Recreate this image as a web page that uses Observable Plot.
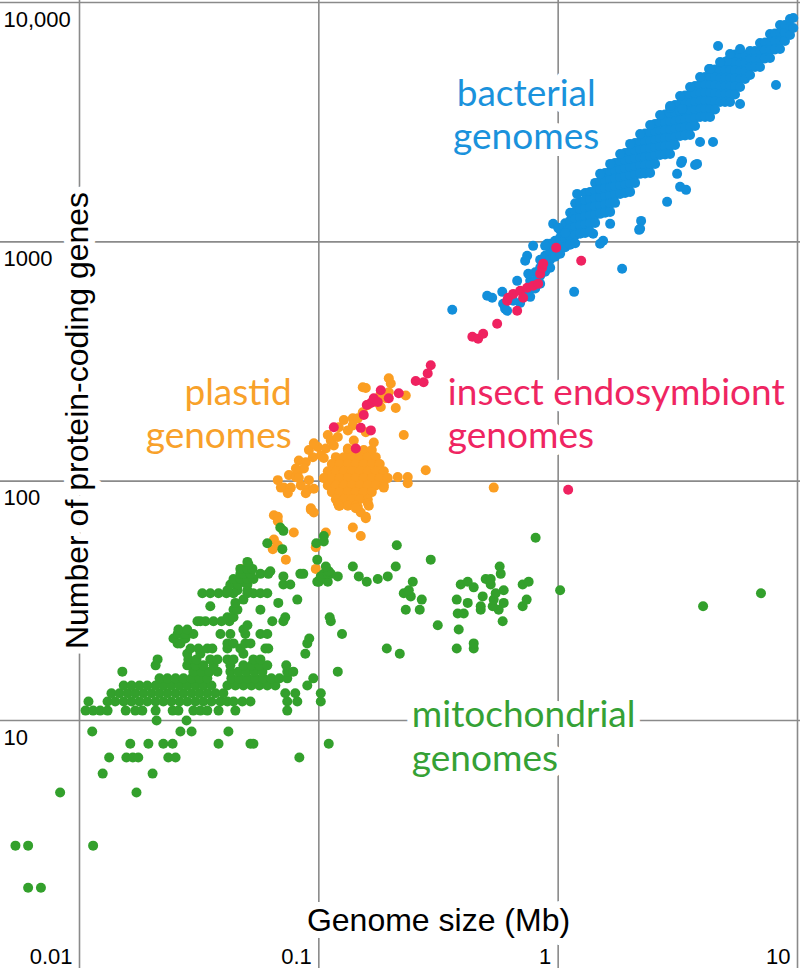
<!DOCTYPE html>
<html><head><meta charset="utf-8">
<script src="https://cdn.jsdelivr.net/npm/d3@7"></script>
<script src="https://cdn.jsdelivr.net/npm/@observablehq/plot@0.6"></script>
<style>body{margin:0;background:#fff} #chart svg{display:block}</style>
</head><body><div id="chart"></div>
<script>
// Tick values and labels
const xTicks = [0.01, 0.1, 1, 10];
const xTickLabels = ["0.01", "0.1", "1", "10"];
const yTicks = [10, 100, 1000, 10000];
const yTickLabels = ["10", "100", "1000", "10,000"];

// Mitochondrial genomes: [protein-coding genes, [genome sizes in Mb]]
const mitoRows = [
 [2, [0.0061, 0.0069]],
 [3, [0.0054, 0.0061, 0.0114]],
 [5, [0.0083, 0.0173]],
 [6, [0.0125, 0.0202]],
 [7, [0.0133, 0.0157, 0.0167, 0.0176, 0.0235, 0.0252, 0.0829]],
 [8, [0.0163, 0.0194, 0.0224, 0.0245, 0.0381, 0.0518, 0.0533, 0.110]],
 [9, [0.0113, 0.0264, 0.0294, 0.0419]],
 [10, [0.0210, 0.0280]],
 [11, [0.0106, 0.0114, 0.0122, 0.0131, 0.0156, 0.0171, 0.0183, 0.0208, 0.0245, 0.0259, 0.0299, 0.0320, 0.0342, 0.0381, 0.0448, 0.0738]],
 [12, [0.0109, 0.0131, 0.0141, 0.0153, 0.0165, 0.0178, 0.0192, 0.0208, 0.0224, 0.0242, 0.0262, 0.0282, 0.0305, 0.0329, 0.0356, 0.0388, 0.0415, 0.0440, 0.0479, 0.0518, 0.0738, 0.0813, 0.1019]],
 [13, [0.0136, 0.0147, 0.0159, 0.0171, 0.0185, 0.0200, 0.0216, 0.0233, 0.0252, 0.0272, 0.0294, 0.0317, 0.0342, 0.0370, 0.0399, 0.0724, 0.0797, 0.1019]],
 [14, [0.0153, 0.0165, 0.0178, 0.0192, 0.0208, 0.0224, 0.0242, 0.0262, 0.0282, 0.0305, 0.0329, 0.0356, 0.0415, 0.0448, 0.0484, 0.0523, 0.0564, 0.0609, 0.0658, 0.0895]],
 [15, [0.0216, 0.0233, 0.0252, 0.0272, 0.0294, 0.0317, 0.0342, 0.0431, 0.0466, 0.0503, 0.0543, 0.0586, 0.0633, 0.0684, 0.0738, 0.0948]],
 [16, [0.0151, 0.0299, 0.0323, 0.0349, 0.0377, 0.0427, 0.0461, 0.0498, 0.0538, 0.0581, 0.0738, 0.0782, 0.1200]],
 [17, [0.0208, 0.0282, 0.0305, 0.0329, 0.0363, 0.0427, 0.0484, 0.0523, 0.0564, 0.0609, 0.0731]],
 [18, [0.0212, 0.0285, 0.0308, 0.0352, 0.0377, 0.0415, 0.0440, 0.0533, 0.0570]],
 [19, [0.0282, 0.0320, 0.0484, 0.0878, 0.2179]],
 [20, [0.0291, 0.0314, 0.0342, 0.0359, 0.0415, 0.0470, 0.0598, 0.0615, 0.1923, 0.3769, 0.4437]],
 [21, [0.0257, 0.0264, 0.0415, 0.0440, 0.0493, 0.0518, 0.0895, 0.4437]],
 [22, [0.0247, 0.0277, 0.0912]],
 [23, [0.0257, 0.0264, 0.0277, 0.0299, 0.0388, 0.0427, 0.0493, 0.0570, 0.0609, 0.1250]],
 [24, [0.0259, 0.0282, 0.0484, 0.3842]],
 [25, [0.0503, 0.3140]],
 [26, [0.0311, 0.0320, 0.0336, 0.0363, 0.0392, 0.0423, 0.0639, 0.0711, 0.1122, 0.5863]],
 [27, [0.0415, 0.0440, 0.0724, 0.1110]],
 [28, [0.3805, 0.4032]],
 [29, [0.0440, 0.0457, 0.0570, 0.2308, 0.2640, 0.4747, 0.5642]],
 [30, [0.0352, 0.4747, 0.5327, 0.7106, 4.032]],
 [31, [0.0448, 0.0677, 0.4189, 0.5920]],
 [32, [0.0484, 0.0813, 0.2692, 0.3769, 0.5378, 0.7384]],
 [33, [0.2422, 0.4838]],
 [34, [0.0326, 0.0352, 0.0381, 0.0411, 0.0440, 0.0503, 0.0533, 0.0570, 0.0609, 0.2264, 0.5483, 7.037]],
 [35, [0.0415, 0.0457, 0.0503, 0.2376, 0.5920, 1.019]],
 [36, [0.4437]],
 [37, [0.0427, 0.0461, 0.0503, 0.0711, 0.0760, 0.3916, 0.5225, 0.7106]],
 [38, [0.0985, 0.1000, 0.1090, 0.1586, 0.2469, 0.4189, 0.7529]],
 [39, [0.0440, 0.0470, 0.0503, 0.0533, 0.1763, 0.4980, 0.5225]],
 [40, [0.0711, 0.1019, 0.1200, 0.1469, 0.1941]],
 [41, [0.0470, 0.0484, 0.0518, 0.0570, 0.0615, 0.0837, 0.0861, 0.1049, 0.1090, 0.1122, 0.5754]],
 [42, [0.0627, 0.1101]],
 [43, [0.0470, 0.0503, 0.0528]],
 [44, [0.1070, 0.1387, 0.2096, 0.5697]],
 [45, [0.0508]],
 [46, [0.0503]],
 [47, [0.0985, 0.2935]],
 [52, [0.0704]],
 [54, [0.2117]],
 [55, [0.0609, 0.0976]],
 [56, [0.1049]],
 [58, [0.805]],
 [59, [0.1049]],
 [62, [0.0711]],
 [64, [0.0690]]
];

// Plastid genomes: dense core [genes, [sizes Mb]] and scattered [size Mb, genes]
const plastidCoreRows = [
 [135, [0.1322, 0.1427, 0.1541, 0.1665]],
 [126, [0.1178, 0.1272, 0.1373, 0.1483, 0.1601, 0.1729]],
 [118, [0.1133, 0.1223, 0.1322, 0.1427, 0.1541, 0.1665, 0.1797]],
 [110, [0.1090, 0.1178, 0.1272, 0.1373, 0.1483, 0.1601, 0.1729, 0.1868]],
 [103, [0.1049, 0.1133, 0.1223, 0.1322, 0.1427, 0.1541, 0.1665, 0.1797, 0.1941]],
 [96, [0.1090, 0.1178, 0.1272, 0.1373, 0.1483, 0.1601, 0.1729, 0.1868]],
 [90, [0.1133, 0.1223, 0.1322, 0.1427, 0.1541, 0.1665]],
 [84, [0.1178, 0.1272, 0.1373, 0.1483, 0.1601]],
 [79, [0.1223, 0.1322, 0.1427]]
];
const plastidPoints = [
 [0.0649,72],[0.0926,77],[0.0953,74],[0.0674,101],[0.0714,94],[0.0750,106],[0.0802,104],[0.0764,94],
 [0.0841,96],[0.0900,92],[0.0909,101],[0.0817,109],[0.0825,122],[0.0882,120],[0.0866,113],[0.0944,126],
 [0.0909,135],[0.099,139],[0.1019,128],[0.1049,125],[0.1090,156],[0.1122,148],[0.1200,153],[0.1212,168],
 [0.1272,180],[0.1387,183],[0.1455,183],[0.1526,194],[0.1601,208],[0.1763,212],[0.1815,204],[0.1904,222],
 [0.1960,235],[0.1998,256],[0.1960,269],[0.1526,247],[0.1571,245],[0.1815,233],[0.2096,202],[0.2264,156],
 [0.1697,145],[0.1571,160],[0.1400,148],[0.1322,137],[0.2797,111],[0.2137,104],[0.2352,104],[0.2352,98],
 [0.2308,228],[0.1200,81],[0.1455,78],[0.1601,81],[0.1571,71],[0.1497,74],[0.1868,94],[0.0953,144],
 [0.0802,113],[0.0825,103],[0.0953,93],[0.0674,71],[0.1070,137],[0.538,94],[0.1387,171],[0.1322,163],
 [0.1155,141],[0.0674,68],[0.0786,61],[0.0728,47],[0.0649,57],[0.0674,54],[0.0642,52],[0.0971,53],
 [0.1070,61],[0.0971,43],[0.0926,76],[0.0882,89],[0.0694,94],[0.0742,89],[0.0472,43],[0.1387,64],
 [0.1497,59],[0.1571,70],[0.1427,77],[0.1212,79],[0.1617,79]
];

// Bacterial genomes: dense band [size Mb, [genes]] and scattered [size Mb, genes]
const bacterialBand = [
 [0.764,[687,637,589]],[0.802,[746,691,639]],[0.841,[841,779,721,668]],[0.882,[874,810,750]],
 [0.926,[981,909,841,779]],[0.971,[1010,935,866]],[1.019,[1122,1039,962,891]],[1.070,[1195,1106,1024,949]],
 [1.122,[1322,1223,1133,1049,972]],[1.178,[1448,1340,1242,1150,1065,986]],[1.235,[1469,1360,1259,1166,1080]],
 [1.296,[1601,1483,1373,1272,1178,1090]],[1.360,[1617,1497,1387,1284,1189]],[1.427,[1763,1633,1512,1400,1296,1200]],
 [1.497,[1780,1649,1526,1413,1309]],[1.571,[1941,1797,1665,1541,1427,1322]],[1.649,[1960,1815,1681,1556,1441]],
 [1.729,[2137,1979,1833,1697,1571,1455]],[1.815,[2158,1998,1850,1713,1586]],[1.904,[2352,2179,2017,1868,1729,1601]],
 [1.998,[2376,2200,2037,1886,1746]],[2.096,[2590,2399,2221,2056,1904,1763]],[2.200,[2615,2422,2242,2076,1923]],
 [2.308,[2838,2628,2434,2253,2086,1932]],[2.422,[2852,2640,2446,2264,2096]],[2.541,[3110,2879,2666,2469,2286,2117]],
 [2.666,[3140,2907,2692,2493,2308]],[2.797,[3407,3155,2921,2705,2505,2318]],[2.935,[3423,3170,2935,2718,2517]],
 [3.079,[3733,3456,3200,2963,2744,2541]],[3.232,[3769,3489,3231,2992,2770]],[3.390,[4090,3787,3506,3247,3006,2784]],
 [3.557,[4110,3805,3523,3263,3021]],[3.733,[4480,4149,3842,3557,3294,3050]],[3.916,[4524,4189,3879,3592,3326]],
 [4.110,[4885,4524,4189,3879,3592,3326]],[4.312,[4885,4524,4189,3879,3592]],[4.524,[5251,4861,4502,4169,3860,3575]],
 [4.747,[5225,4838,4480,4149,3842]],[4.980,[5642,5225,4838,4480,4149,3842]],[5.226,[5642,5225,4838,4480,4149]],
 [5.483,[6064,5615,5200,4815,4458,4129]],[5.754,[6035,5588,5175,4792,4437]],[6.035,[6035,5588,5175,4792]],
 [6.334,[6272,5807,5378,4980]],[6.644,[6272,5807,5378]],[6.973,[6773,6272,5807,5378]],
 [7.311,[6800,6303,5836]],[7.677,[7384,6838,6332,5863]],[8.050,[7420,6870,6362]],
 [8.451,[8050,7455,6902,6391]],[8.862,[8050,7455,6902]],[9.305,[8530,7898,7311]],[9.6,[8612,7823]]
];
const bacterialPoints = [
 [4.656,6580],[4.270,5276],[5.076,5697],[8.13,4524],[5.754,3769],[2.935,3626],[3.294,3592],[3.916,2615],
 [4.437,2615],[3.733,2096],[3.263,2137],[3.140,1923],[3.232,1697],[3.423,1649],[2.852,1469],[2.221,1223],
 [2.179,1122],[1.200,1586],[1.541,1010],[1.400,1080],[1.850,772],[1.649,1189],[2.200,1133],[3.294,2179],
 [3.805,2117],[0.953,1189],[1.0,1144],[1.070,1090],[0.900,981],[0.882,962],[0.786,962],[0.742,874],
 [0.728,833],[0.750,735],[0.674,687],[0.584,618],[0.505,595],[0.530,584],[0.589,551],[0.600,525],
 [0.612,515],[0.694,556],[0.361,520],[1.166,618],[1.497,981],[0.649,567],[0.728,595],
 [1.497,1923],[1.815,2330],[2.200,2824],[2.666,3390],[3.232,4069],[3.916,4885],[4.747,5642],
 [1.360,1101],[1.649,1334],[1.998,1617],[2.422,1941],[2.935,2330],[3.557,2797],[4.312,3326],[5.226,3842],
 [1.649,2117],[1.998,2566],[2.422,3079],[2.935,3697],[3.557,4437],[4.312,5276],[5.226,6093],[5.754,6391]
];

// Insect endosymbiont genomes: [size Mb, genes]
const endosymbiont = [
 [0.438,401],[0.463,394],[0.486,413],[0.556,455],[0.674,515],[0.618,584],[0.649,606],[0.694,624],
 [0.742,643],[0.786,655],[0.825,668],[0.714,584],[0.612,567],[0.841,735],[0.857,779],[0.866,810],
 [0.981,944],[1.248,833],[1.101,92],
 [0.1155,168],[0.1497,167],[0.165,163],[0.1427,137],[0.1541,189],[0.165,212],[0.1697,222],[0.1763,214],
 [0.1815,240],[0.196,222],[0.2158,233],[0.254,262],[0.274,259],[0.285,282],[0.2935,305],[0.1586,208]
];

// Group labels: [text, size Mb, genes (last baseline), anchor, colour]
const groupLabels = [
 ["bacterial\ngenomes", 0.735, 2447, "middle", "#1a92dc"],
 ["plastid\ngenomes", 0.0771, 137, "end", "#f8a12a"],
 ["insect endosymbiont\ngenomes", 0.346, 137, "start", "#ef2562"],
 ["mitochondrial\ngenomes", 0.2447, 6.18, "start", "#35a135"]
];

const colors = {mito: "#33a02c", plastid: "#fb9e22", insect: "#ef2260", bact: "#128fdb"};
const grid = "#8a8a8a";

const mito = mitoRows.flatMap(([g, xs]) => xs.map(x => ({x, y: g})));
const plastid = plastidCoreRows.flatMap(([g, xs]) => xs.map(x => ({x, y: g})))
  .concat(plastidPoints.map(([x, y]) => ({x, y})));
const bact = bacterialBand.flatMap(([x, gs]) => gs.map(y => ({x, y})))
  .concat(bacterialPoints.map(([x, y]) => ({x, y})));
const insect = endosymbiont.map(([x, y]) => ({x, y}));
const labels = groupLabels.map(([text, x, y, anchor, color]) => ({text, x, y, anchor, color}));

const sansLabel = "Lato, 'Open Sans', sans-serif";
const sansAxis = "'Liberation Sans', Arial, sans-serif";

const chart = Plot.plot({
  width: 800, height: 968, margin: 0,
  style: {background: "white", overflow: "hidden"},
  x: {type: "log", domain: [0.01, 10], range: [79, 797], axis: null},
  y: {type: "log", domain: [10, 10000], range: [720, 2], axis: null},
  marks: [
    Plot.ruleX(xTicks, {x: d => d, stroke: grid, strokeWidth: 1.6}),
    Plot.ruleY(yTicks, {y: d => d, stroke: grid, strokeWidth: 1.6}),
    Plot.dot(plastid, {x: "x", y: "y", r: 5, fill: colors.plastid}),
    Plot.dot(mito, {x: "x", y: "y", r: 5, fill: colors.mito}),
    Plot.dot(bact, {x: "x", y: "y", r: 5, fill: colors.bact}),
    Plot.dot(insect, {x: "x", y: "y", r: 5, fill: colors.insect}),
    ...["middle", "start", "end"].map(a => Plot.text(labels.filter(d => d.anchor === a), {
      x: "x", y: "y", text: "text", textAnchor: a, lineAnchor: "bottom", lineHeight: 1.17,
      fill: "color", stroke: "white", strokeWidth: 14, fontSize: 37, fontFamily: sansLabel
    })),
    Plot.text(xTicks, {x: d => d, text: (d, i) => xTickLabels[i], frameAnchor: "bottom", textAnchor: "end",
      lineAnchor: "bottom", dx: -7, dy: -5, fontSize: 22, fontFamily: sansAxis, fill: "black"}),
    Plot.text(yTicks, {y: d => d, text: (d, i) => yTickLabels[i], frameAnchor: "left", textAnchor: "start",
      lineAnchor: "bottom", dx: 3, dy: 24, fontSize: 22, fontFamily: sansAxis, fill: "black"}),
    Plot.text(["Genome size (Mb)"], {frameAnchor: "bottom", textAnchor: "middle", lineAnchor: "bottom", dx: 38, dy: -38,
      fontSize: 32, fontFamily: sansAxis, fill: "black", stroke: "white", strokeWidth: 14}),
    Plot.text(["Number of protein-coding genes"], {frameAnchor: "left", textAnchor: "middle", lineAnchor: "middle",
      rotate: -90, dx: 77, dy: -64,
      fontSize: 32, fontFamily: sansAxis, fill: "black", stroke: "white", strokeWidth: 14})
  ]
});
document.getElementById("chart").append(chart);
</script>
</body></html>
